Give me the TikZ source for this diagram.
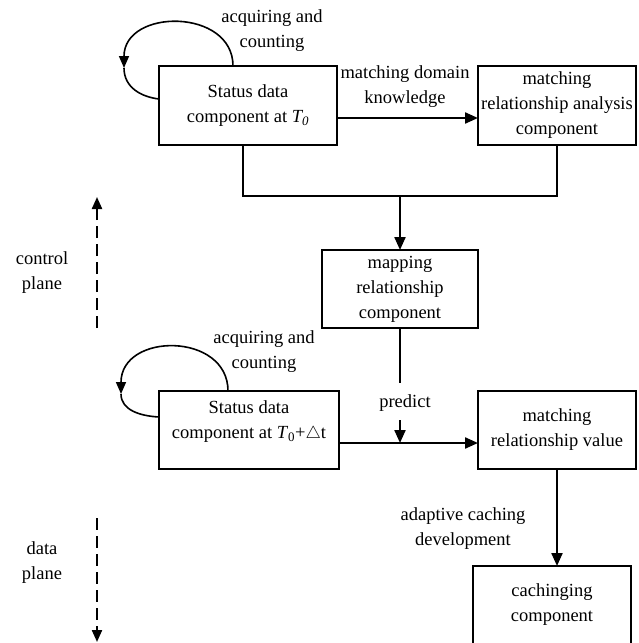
\documentclass[tikz,border=0pt]{standalone}
\usepackage{fontspec}
\setmainfont{Liberation Serif}
\usetikzlibrary{arrows.meta,calc}
\begin{document}
\begin{tikzpicture}[x=1pt,y=-1pt,
 box/.style={draw,line width=1.3pt,inner sep=0pt,outer sep=0pt,align=center,font=\fontsize{18.5}{25}\selectfont},
 lbl/.style={inner sep=0pt,align=center,font=\fontsize{18.5}{25}\selectfont},
 conn/.style={line width=2.2pt},
 arr/.style={line width=2.2pt,-{Triangle[length=13pt,width=11pt]}},
 loopline/.style={line width=1.6pt},
 looparr/.style={line width=1.6pt,-{Triangle[length=12pt,width=10pt]}},
 plane/.style={line width=2.2pt,dash pattern=on 12pt off 6pt,-{Triangle[length=12pt,width=10pt]}}]
\useasboundingbox (0,0) rectangle (639,643);
\clip (0,0) rectangle (639,643);

% boxes
\node[box,minimum width=178,minimum height=79] (b1) at (248,105.5) {Status data\\component at \textit{T\textsubscript{0}}};
\node[box,minimum width=158,minimum height=79] (b2) at (557,105.5) {matching\\relationship analysis\\component};
\node[box,minimum width=156,minimum height=78] (map) at (400,289) {mapping\\relationship\\component};
\node[box,minimum width=180,minimum height=78] (b3) at (249,430) {};
\node[lbl] (b3t) at (249,422) {Status data\\component at \textit{T}\textsubscript{0}+$\triangle$t};
\node[box,minimum width=158,minimum height=78] (b4) at (557,430) {matching\\relationship value};
\node[box,minimum width=158,minimum height=78] (cache) at (552,605) {cachinging\\component};

% labels
\node[lbl] (acq1) at (272,31) {acquiring and\\counting};
\node[lbl] (mdk) at (405,87) {matching domain\\knowledge};
\node[lbl] (acq2) at (264,352) {acquiring and\\counting};
\node[lbl] (pred) at (405,403) {predict};
\node[lbl] (acd) at (463,529) {adaptive caching\\development};
\node[lbl] (cp) at (42,273) {control\\plane};
\node[lbl] (dp) at (42,563) {data\\plane};

% connectors
\draw[arr] ([yshift=-12.5pt]b1.east) -- ([yshift=-12.5pt]b2.west);
\coordinate (j) at (400,196);
\draw[conn] ([xshift=-5pt]b1.south) |- (j);
\draw[conn] (b2.south) |- (j);
\draw[arr] (j) -- (map.north);
\coordinate (pe) at (400,383);
\draw[conn] (map.south) -- (pe);
\coordinate (pa) at (400,420);
\coordinate (pm) at (400,443);
\draw[arr] (pa) -- (pm);
\draw[arr] ([yshift=-13pt]b3.east) -- ([yshift=-13pt]b4.west);
\draw[arr] (b4.south) -- (b4.south |- cache.north);

% loops
\draw[looparr] ($(b1.north west)+(74,0)$) .. controls (233,8) and (124,8) .. (124,68) coordinate (l1m);
\draw[loopline] (l1m) .. controls (124,88) and (142,97) .. ($(b1.north west)+(0,33)$);
\draw[looparr] ($(b3.north west)+(69,0)$) .. controls (228,332) and (121,332) .. (121,394) coordinate (l2m);
\draw[loopline] (l2m) .. controls (121,410) and (140,416) .. ($(b3.north west)+(0,26)$);

% planes
\coordinate (cpb) at (97,328);
\coordinate (cpt) at (97,197);
\draw[plane] (cpb) -- (cpt);
\coordinate (dpt) at (97,518);
\coordinate (dpb) at (97,642);
\draw[plane] (dpt) -- (dpb);
\end{tikzpicture}
\end{document}
